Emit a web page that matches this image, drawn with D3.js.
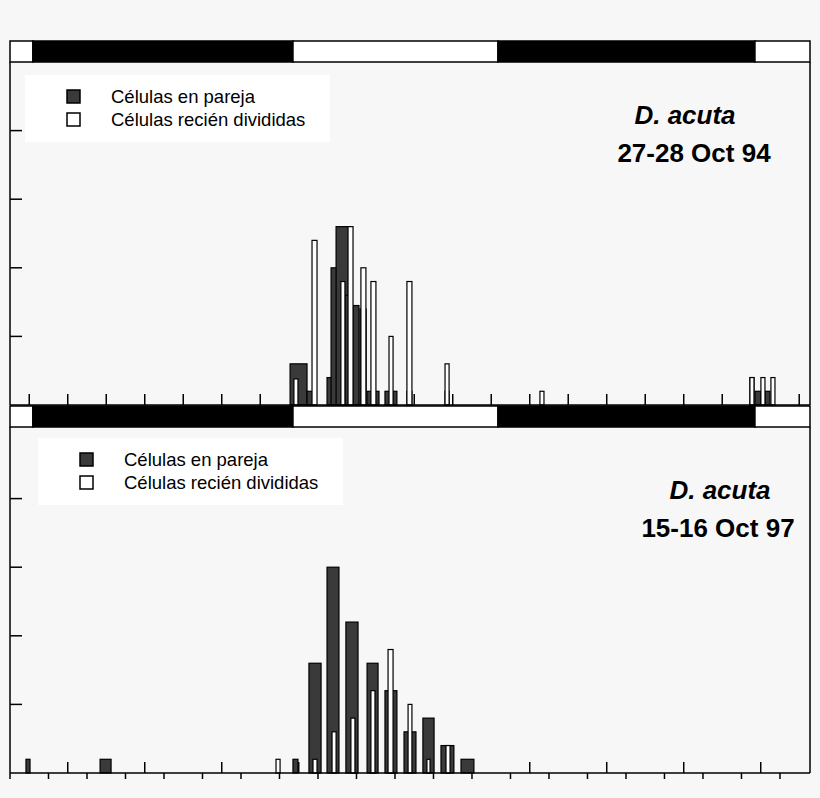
<!DOCTYPE html>
<html><head><meta charset="utf-8">
<script src="https://cdn.jsdelivr.net/npm/d3@7"></script>
<style>body{margin:0;background:#f7f7f7}svg{font-family:"Liberation Sans",Arial,sans-serif}</style>
</head><body><svg></svg>
<script>
// light/dark periods (hours): [start, end, dark?]
const lightDark = [[0, 1.19, 0], [1.19, 14.70, 1], [14.70, 25.35, 0], [25.35, 38.70, 1], [38.70, 41.56, 0]];

// panel 1 : 27-28 Oct 94 (start hour, end hour, %)
const topDarkStart = [14.55, 15.43, 16.47, 16.68, 16.94, 17.40, 17.82, 18.18, 18.55, 19.48, 19.90, 20.62, 22.60, 38.44, 38.70, 39.22];
const topDarkEnd   = [15.43, 15.84, 16.78, 16.99, 17.66, 17.77, 18.13, 18.50, 19.17, 19.79, 20.10, 20.88, 22.81, 38.65, 39.01, 39.48];
const topDarkVal   = [0.6, 0.2, 0.4, 2.0, 2.6, 1.6, 1.45, 1.4, 0.2, 0.2, 0.2, 0.2, 0.2, 0.4, 0.2, 0.2];
const topWhiteStart = [14.75, 15.69, 17.19, 17.56, 18.23, 18.75, 19.69, 20.62, 22.60, 27.53, 38.44, 39.01, 39.53];
const topWhiteEnd   = [14.96, 15.95, 17.40, 17.82, 18.49, 19.01, 19.90, 20.88, 22.81, 27.74, 38.65, 39.22, 39.74];
const topWhiteVal   = [0.38, 2.4, 1.8, 2.6, 2.0, 1.8, 1.0, 1.8, 0.6, 0.2, 0.4, 0.4, 0.4];

// panel 2 : 15-16 Oct 97
const botDarkStart = [0.83, 4.68, 14.70, 15.53, 16.47, 17.45, 18.55, 19.48, 20.47, 21.45, 22.39, 23.43];
const botDarkEnd   = [1.04, 5.25, 14.96, 16.16, 17.09, 18.08, 19.12, 20.10, 21.09, 22.03, 23.06, 24.10];
const botDarkVal   = [0.2, 0.2, 0.2, 1.6, 3.0, 2.2, 1.6, 1.2, 0.6, 0.8, 0.4, 0.2];
const botWhiteStart = [13.82, 15.74, 16.73, 17.71, 18.75, 19.64, 20.68, 21.66, 22.65];
const botWhiteEnd   = [14.03, 15.95, 16.94, 17.92, 18.96, 19.90, 20.88, 21.82, 22.86];
const botWhiteVal   = [0.2, 0.2, 0.6, 0.8, 1.2, 1.8, 1.0, 0.2, 0.4];

const yTicks = [1, 2, 3, 4];
const legendLabels = ["Células en pareja", "Células recién divididas"];

const svg = d3.select("svg").attr("width", 820).attr("height", 798);
const x = d3.scaleLinear().domain([0, 41.56]).range([10, 810]);

function zip(s, e, v) { return s.map((d, i) => ({s: d, e: e[i], v: v[i]})); }

function panel(opt) {
  const y = d3.scaleLinear().domain([0, 5]).range([opt.base, opt.base - 343]);
  const g = svg.append("g");
  // light/dark bar
  g.selectAll(".ld").data(lightDark).enter().append("rect")
    .attr("x", d => x(d[0])).attr("width", d => x(d[1]) - x(d[0]))
    .attr("y", opt.ldY).attr("height", 21)
    .attr("fill", d => d[2] ? "#000" : "#fff").attr("stroke", "#000").attr("stroke-width", 1.5);
  // axis lines
  g.append("line").attr("x1", 10).attr("x2", 10).attr("y1", opt.ldY + 21).attr("y2", opt.base).attr("stroke", "#000").attr("stroke-width", 1.5);
  g.append("line").attr("x1", 810).attr("x2", 810).attr("y1", opt.ldY + 21).attr("y2", opt.base).attr("stroke", "#000").attr("stroke-width", 1.5);
  g.selectAll(".yt").data(yTicks).enter().append("line")
    .attr("x1", 10).attr("x2", 22).attr("y1", d => y(d)).attr("y2", d => y(d)).attr("stroke", "#000").attr("stroke-width", 1.5);
  // x ticks
  g.selectAll(".xu").data(opt.upTicks).enter().append("line")
    .attr("x1", d => x(d)).attr("x2", d => x(d)).attr("y1", opt.base).attr("y2", opt.base - 11).attr("stroke", "#000").attr("stroke-width", 1.5);
  g.selectAll(".xd").data(opt.downTicks).enter().append("line")
    .attr("x1", d => x(d)).attr("x2", d => x(d)).attr("y1", opt.base).attr("y2", opt.base + 6).attr("stroke", "#000").attr("stroke-width", 1.5);
  // bars
  g.selectAll(".db").data(opt.dark).enter().append("rect")
    .attr("x", d => x(d.s)).attr("width", d => x(d.e) - x(d.s))
    .attr("y", d => y(d.v)).attr("height", d => opt.base - y(d.v))
    .attr("fill", "#3a3a3a").attr("stroke", "#000").attr("stroke-width", 1.2);
  g.selectAll(".wb").data(opt.white).enter().append("rect")
    .attr("x", d => x(d.s)).attr("width", d => x(d.e) - x(d.s))
    .attr("y", d => y(d.v)).attr("height", d => opt.base - y(d.v))
    .attr("fill", "#fff").attr("stroke", "#000").attr("stroke-width", 1.2);
  g.append("line").attr("x1", 10).attr("x2", 810).attr("y1", opt.base).attr("y2", opt.base).attr("stroke", "#000").attr("stroke-width", 1.5);
  // legend
  g.append("rect").attr("x", opt.lx).attr("y", opt.ly).attr("width", 305).attr("height", 67).attr("fill", "#fff");
  legendLabels.forEach((t, i) => {
    g.append("rect").attr("x", opt.lx + 42).attr("y", opt.ly + 15 + i * 23).attr("width", 13).attr("height", 13)
      .attr("fill", i ? "#fff" : "#3a3a3a").attr("stroke", "#000").attr("stroke-width", 1.5);
    g.append("text").attr("x", opt.lx + 86).attr("y", opt.ly + 28 + i * 23).attr("font-size", 18.5).text(t);
  });
  g.append("text").attr("x", opt.tx).attr("y", opt.ty).attr("text-anchor", "middle")
    .attr("font-size", 26).attr("font-weight", "bold").attr("font-style", "italic").text("D. acuta");
  g.append("text").attr("x", opt.tx + opt.dx).attr("y", opt.ty + 38).attr("text-anchor", "middle")
    .attr("font-size", 26).attr("font-weight", "bold").text(opt.date);
}

const odd = d3.range(1, 42, 2), even = d3.range(0, 42, 2), every4 = d3.range(3, 42, 4);
panel({ldY: 41, base: 405, dark: zip(topDarkStart, topDarkEnd, topDarkVal), white: zip(topWhiteStart, topWhiteEnd, topWhiteVal),
  upTicks: odd, downTicks: [], lx: 25, ly: 75, tx: 685, dx: 9, ty: 124, date: "27-28 Oct 94"});
panel({ldY: 406, base: 773, dark: zip(botDarkStart, botDarkEnd, botDarkVal), white: zip(botWhiteStart, botWhiteEnd, botWhiteVal),
  upTicks: every4, downTicks: even, lx: 38, ly: 438, tx: 720, dx: -2, ty: 499, date: "15-16 Oct 97"});
</script></body></html>
